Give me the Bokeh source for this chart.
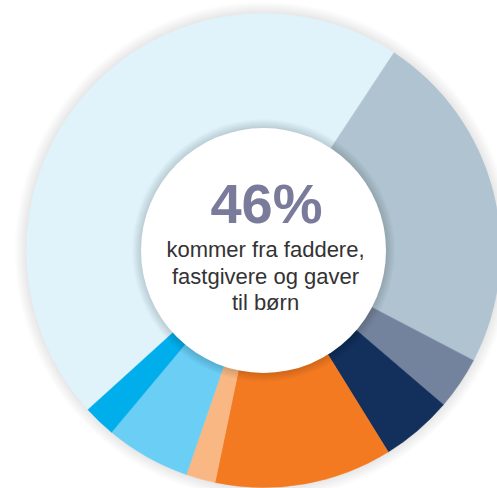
import math
from bokeh.plotting import figure
from bokeh.models import Range1d
from bokeh.core.properties import value
from bokeh.embed import file_html
from bokeh.resources import INLINE

# Data (share of income, percent), clockwise order
segments = ["Faddere, fastgivere og gaver til børn", "Kilde B", "Kilde C", "Kilde D",
            "Kilde E", "Kilde F", "Kilde G", "Kilde H"]
shares = [46.0, 23.4, 3.6, 4.9, 12.1, 2.0, 5.8, 2.2]
colors = ["#E0F2FA", "#AFC3D1", "#74839D", "#13305D", "#F47A22", "#F9B784", "#6ACEF5", "#00AEEC"]
headline = "46%"
caption = ["kommer fra faddere,", "fastgivere og gaver", "til børn"]

W, H = 497, 488
p = figure(width=W, height=H, output_backend="svg", toolbar_location=None,
           x_range=Range1d(0, W), y_range=Range1d(-H, 0),
           x_axis_type=None, y_axis_type=None, min_border=0)
p.grid.visible = False
p.outline_line_color = None
p.background_fill_color = "white"
p.border_fill_color = "white"

cx, cy = 263, -250
r_in, r_out = 122.5, 237

# outer soft shadow
for k in range(12, 0, -1):
    p.circle(x=[cx], y=[cy], radius=r_out + k, fill_color="black", fill_alpha=0.009,
             line_color=None)

total = sum(shares)
start_cw = 227.8
starts, ends = [], []
acc = start_cw
for s in shares:
    a0 = acc
    a1 = acc + s / total * 360.0
    starts.append(math.radians(90 - a0))
    ends.append(math.radians(90 - a1))
    acc = a1

p.annular_wedge(x=cx, y=cy, inner_radius=r_in - 2, outer_radius=r_out,
                start_angle=starts, end_angle=ends, direction="clock",
                fill_color=colors, line_color=colors, line_width=0.5)

# inner shadow
for k in range(9, 0, -1):
    p.circle(x=[cx], y=[cy], radius=r_in + k, fill_color="black", fill_alpha=0.014,
             line_color=None)
p.circle(x=[cx], y=[cy], radius=r_in, fill_color="white", line_color=None)

p.text(x=[cx + 3], y=[-202.5], text=[headline], text_align="center", text_baseline="alphabetic",
       text_font=value("Liberation Sans"), text_font_style="bold", text_font_size="56px",
       text_color="#7A7B9B")
p.text(x=[cx + 2] * 3, y=[-249.4, -275.6, -302.1], text=caption, text_align="center",
       text_baseline="alphabetic", text_font=value("Liberation Sans"),
       text_font_size="22px", text_color="#333333")

open("out.html", "w").write(file_html(p, INLINE))
